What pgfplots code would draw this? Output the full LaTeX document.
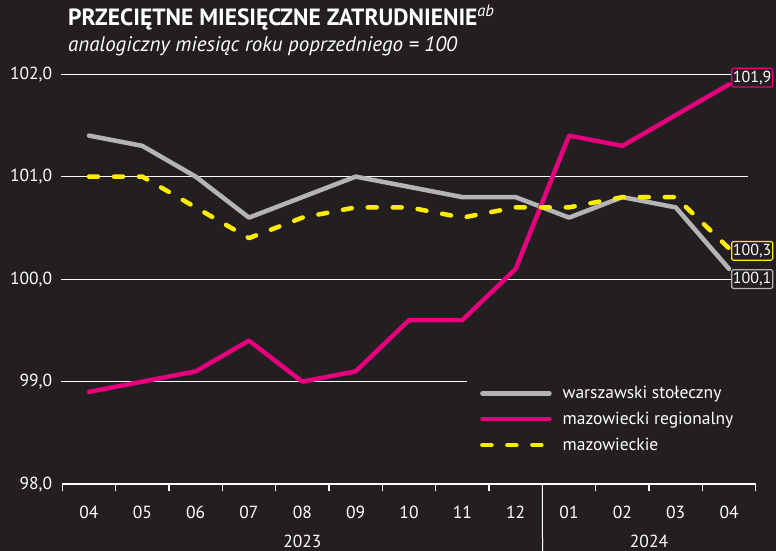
\documentclass[border=0pt]{standalone}
\usepackage{fontspec}
\setmainfont{PT Sans}
\usepackage{pgfplots}
\pgfplotsset{compat=1.18}
\definecolor{bg}{HTML}{231F20}
\definecolor{grayc}{HTML}{B4B4B6}
\definecolor{magc}{HTML}{E6007E}
\definecolor{yelc}{HTML}{FFED00}
\begin{document}
\begin{tikzpicture}[x=1bp,y=1bp]
\fill[bg] (0,0) rectangle (776,551);
\useasboundingbox (0,0) rectangle (776,551);
\node[anchor=base west, text=white, inner sep=0pt, font=\fontsize{23.5bp}{26bp}\selectfont\bfseries] at (68,525) {PRZECIĘTNE MIESIĘCZNE ZATRUDNIENIE\textsuperscript{\normalfont\itshape ab}};
\node[anchor=base west, text=white, inner sep=0pt, font=\fontsize{21bp}{24bp}\selectfont\itshape] at (68,499) {analogiczny miesiąc roku poprzedniego = 100};
\begin{axis}[
  at={(62.3bp,67bp)}, anchor=south west, scale only axis,
  width=693.4bp, height=410bp,
  xmin=-0.5, xmax=12.5, ymin=98, ymax=102, clip=false,
  axis lines*=left,
  y axis line style={draw=none},
  x axis line style={white, line width=1.3bp},
  tick align=outside,
  xtick={0,...,12},
  xticklabels={04,05,06,07,08,09,10,11,12,01,02,03,04},
  minor xtick={-0.5,0.5,...,12.5},
  major tick length=0pt,
  minor tick length=7bp,
  minor x tick style={white, line width=1.3bp},
  ytick={98,99,100,101,102},
  yticklabels={{98,0},{99,0},{100,0},{101,0},{102,0}},
  ytick style={draw=none},
  tick label style={text=white, font=\fontsize{17.5bp}{20bp}\selectfont, inner sep=0pt},
  xticklabel shift=22bp,
  yticklabel shift=10bp,
  legend style={at={(axis cs:7.33,98.975)}, anchor=north west, draw=none, fill=none,
    inner sep=0pt, text=white, font=\fontsize{17.5bp}{20bp}\selectfont, row sep=8bp},
  legend cell align=left,
  legend image code/.code={\draw[#1] (0bp,0bp) -- (67bp,0bp); \path (76bp,0bp);},
]
\draw[white, line width=1bp] (axis cs:-0.52,102) -- (axis cs:12.04,102);
\draw[white, line width=1bp] (axis cs:-0.52,101) -- (axis cs:12.35,101);
\draw[white, line width=1bp] (axis cs:-0.52,100) -- (axis cs:12.04,100);
\draw[white, line width=1bp] (axis cs:-0.52,99) -- (axis cs:7.09,99);
\draw[white, line width=1bp] (axis cs:8.5,98) -- ++(0,-33bp);
\addplot[grayc, line width=4.5bp, line cap=round, line join=round] coordinates {
(0,101.4) (1,101.3) (2,101.0) (3,100.6) (4,100.8) (5,101.0) (6,100.9) (7,100.8) (8,100.8) (9,100.6) (10,100.8) (11,100.7) (12,100.1)};
\addlegendentry{warszawski stołeczny}
\addplot[magc, line width=4.5bp, line cap=round, line join=round] coordinates {
(0,98.9) (1,99.0) (2,99.1) (3,99.4) (4,99.0) (5,99.1) (6,99.6) (7,99.6) (8,100.1) (9,101.4) (10,101.3) (11,101.6) (12,101.9)};
\addlegendentry{mazowiecki regionalny}
\addplot[yelc, line width=4.5bp, line cap=round, line join=round, dash pattern=on 9bp off 16bp] coordinates {
(0,101.0) (1,101.0) (2,100.7) (3,100.4) (4,100.6) (5,100.7) (6,100.7) (7,100.6) (8,100.7) (9,100.7) (10,100.8) (11,100.8) (12,100.3)};
\addlegendentry{mazowieckie}
\tikzset{endlab/.style={anchor=west, fill=bg, text=white, line width=1.2bp, rounded corners=1.5bp, inner xsep=1.2bp, inner ysep=2.5bp, font=\fontsize{16bp}{19bp}\selectfont}}
\node[endlab, draw=magc] at (axis cs:12.04,101.966) {101,9};
\node[endlab, draw=yelc] at (axis cs:12.04,100.276) {100,3};
\node[endlab, draw=grayc] at (axis cs:12.04,100.0) {100,1};
\node[text=white, font=\fontsize{17.5bp}{20bp}\selectfont] at (axis cs:4,98) [yshift=-57bp] {2023};
\node[text=white, font=\fontsize{17.5bp}{20bp}\selectfont] at (axis cs:10.5,98) [yshift=-57bp] {2024};
\end{axis}
\end{tikzpicture}
\end{document}
